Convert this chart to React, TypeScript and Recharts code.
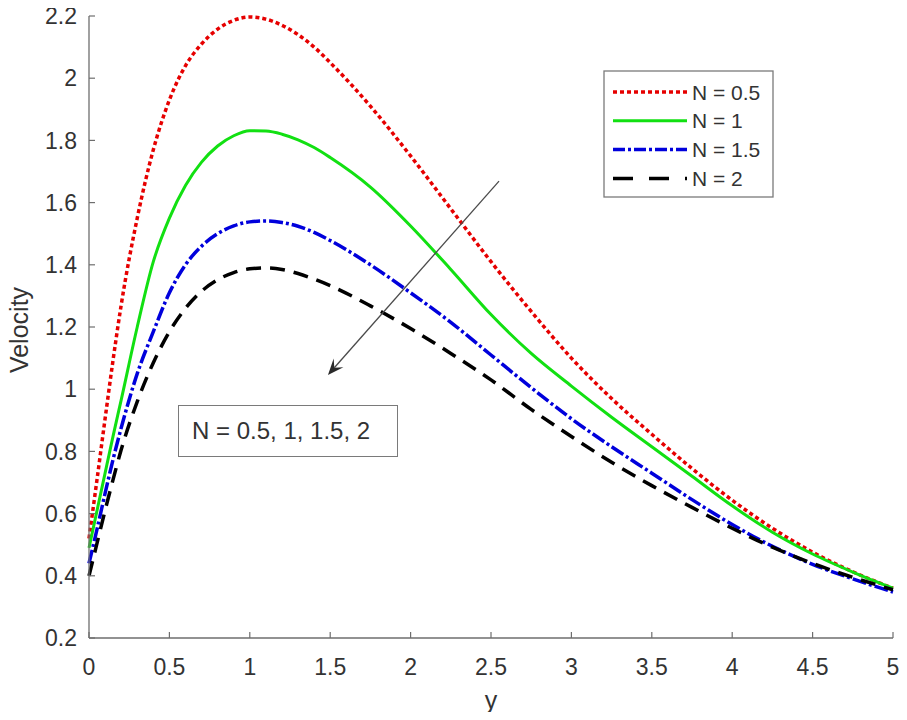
import React from 'react'
import {
  ComposedChart, Line, XAxis, YAxis, Legend, ReferenceLine,
} from 'recharts'

const yPos = [0, 0.05, 0.1, 0.15, 0.2, 0.3, 0.4, 0.5, 0.6, 0.7, 0.8, 0.9, 1.0, 1.1, 1.2, 1.3, 1.4, 1.5, 1.75, 2.0, 2.25, 2.5, 2.75, 3.0, 3.25, 3.5, 3.75, 4.0, 4.25, 4.5, 4.75, 5.0]
const velN05 = [0.52, 0.71, 0.905, 1.095, 1.27, 1.55, 1.77, 1.93, 2.04, 2.11, 2.158, 2.186, 2.197, 2.19, 2.17, 2.14, 2.10, 2.05, 1.91, 1.75, 1.58, 1.41, 1.25, 1.10, 0.97, 0.855, 0.745, 0.643, 0.553, 0.476, 0.413, 0.36]
const velN1 = [0.49, 0.61, 0.73, 0.85, 0.965, 1.20, 1.41, 1.55, 1.655, 1.73, 1.782, 1.815, 1.831, 1.83, 1.82, 1.802, 1.777, 1.745, 1.65, 1.525, 1.385, 1.24, 1.115, 1.01, 0.91, 0.815, 0.72, 0.625, 0.54, 0.47, 0.412, 0.36]
const velN15 = [0.44, 0.55, 0.665, 0.775, 0.875, 1.05, 1.185, 1.31, 1.40, 1.46, 1.50, 1.525, 1.538, 1.541, 1.536, 1.524, 1.504, 1.478, 1.40, 1.31, 1.215, 1.11, 1.005, 0.905, 0.815, 0.73, 0.645, 0.565, 0.495, 0.437, 0.39, 0.348]
const velN2 = [0.40, 0.505, 0.61, 0.71, 0.805, 0.96, 1.085, 1.185, 1.26, 1.315, 1.352, 1.375, 1.387, 1.39, 1.385, 1.372, 1.354, 1.333, 1.268, 1.195, 1.115, 1.03, 0.935, 0.848, 0.765, 0.69, 0.62, 0.553, 0.492, 0.44, 0.395, 0.355]

const xTicks = [0, 0.5, 1, 1.5, 2, 2.5, 3, 3.5, 4, 4.5, 5]
const yTicks = [0.2, 0.4, 0.6, 0.8, 1, 1.2, 1.4, 1.6, 1.8, 2, 2.2]

// arrow annotation, in data units
const arrowTail = { x: 2.55, y: 1.669 }
const arrowTip = { x: 1.486, y: 1.046 }

const data = yPos.map((y, i) => ({
  y, n05: velN05[i], n1: velN1[i], n15: velN15[i], n2: velN2[i],
}))

const series = [
  { key: 'n05', name: 'N = 0.5', color: '#e60000', dash: '4 3', legendDash: '4 3', width: 3.5 },
  { key: 'n1', name: 'N = 1', color: '#12e012', dash: undefined, legendDash: undefined, width: 3 },
  { key: 'n15', name: 'N = 1.5', color: '#0000dc', dash: '14 3 3 3', legendDash: '12 3 3 3', width: 3.5 },
  { key: 'n2', name: 'N = 2', color: '#000000', dash: '15 9', legendDash: '20 16', width: 3.5 },
]

const FONT = '"Liberation Sans", Arial, sans-serif'
const TEXT = '#333333'
const AXIS = '#6e6e6e'
const TICK_LEN = 6
const TICK_FONT = 23
const LABEL_FONT = 25

const BottomTick = (p: any) => (
  <g>
    <line x1={p.x} x2={p.x} y1={p.y - 21} y2={p.y - 21 - TICK_LEN} stroke={AXIS} strokeWidth={1.2} />
    <text x={p.x} y={p.y} dy="0.71em" textAnchor="middle" fontSize={TICK_FONT} fontFamily={FONT} fill={TEXT}>
      {p.payload.value}
    </text>
  </g>
)

const LeftTick = (p: any) => (
  <g>
    <line x1={p.x + 12} x2={p.x + 12 + TICK_LEN} y1={p.y} y2={p.y} stroke={AXIS} strokeWidth={1.2} />
    <text x={p.x} y={p.y} dy="0.36em" textAnchor="end" fontSize={TICK_FONT} fontFamily={FONT} fill={TEXT}>
      {p.payload.value}
    </text>
  </g>
)

const TopTick = (p: any) => (
  <line x1={p.x} x2={p.x} y1={p.y} y2={p.y + TICK_LEN} stroke={AXIS} strokeWidth={1.2} />
)

const RightTick = (p: any) => (
  <line x1={p.x} x2={p.x - TICK_LEN} y1={p.y} y2={p.y} stroke={AXIS} strokeWidth={1.2} />
)

const Arrow = (p: any) => {
  const { x1, y1, x2, y2 } = p
  const ang = Math.atan2(y2 - y1, x2 - x1)
  const len = 16
  const half = 6.5
  const bx = x2 - len * Math.cos(ang)
  const by = y2 - len * Math.sin(ang)
  const nx = -Math.sin(ang)
  const ny = Math.cos(ang)
  const notchX = x2 - len * 0.6 * Math.cos(ang)
  const notchY = y2 - len * 0.6 * Math.sin(ang)
  const pts = `${x2},${y2} ${bx + nx * half},${by + ny * half} ${notchX},${notchY} ${bx - nx * half},${by - ny * half}`
  return (
    <g>
      <line x1={x1} y1={y1} x2={notchX} y2={notchY} stroke="#4a4a4a" strokeWidth={1.3} />
      <polygon points={pts} fill="#2a2a2a" />
    </g>
  )
}

const VelocityLabel = (p: any) => {
  const vb = p.viewBox || {}
  const cx = 19
  const cy = vb.y + vb.height / 2 + 3
  return (
    <text x={cx} y={cy} dy="0.36em" textAnchor="middle" transform={`rotate(-90 ${cx} ${cy})`}
      fontSize={LABEL_FONT} fontFamily={FONT} fill={TEXT}>
      Velocity
    </text>
  )
}

const LegendBox = () => (
  <svg width={171} height={128} style={{ display: 'block' }}>
    <rect x={1} y={1} width={169} height={126} fill="#ffffff" stroke="#7a7a7a" strokeWidth={1.3} />
    {series.map((s, i) => {
      const cy = 22 + i * 28.8
      return (
        <g key={s.key}>
          <line x1={10} x2={84} y1={cy} y2={cy} stroke={s.color} strokeWidth={s.width}
            strokeDasharray={s.legendDash} />
          <text x={89} y={cy} dy="0.36em" fontSize={21} fontFamily={FONT} fill={TEXT}>{s.name}</text>
        </g>
      )
    })}
  </svg>
)

export default function App() {
  return (
    <div style={{ position: 'relative', width: 899, height: 712, margin: '-8px 0 0 -8px', background: '#fff' }}>
      <style>{'.recharts-surface { overflow: visible; }'}</style>
      <ComposedChart width={899} height={712} data={data}
        margin={{ top: 16, right: 6, bottom: 0, left: 0 }}>
        <XAxis dataKey="y" type="number" domain={[0, 5]} ticks={xTicks} interval={0}
          height={74} tickSize={0} tickMargin={21} tickLine={false}
          axisLine={{ stroke: AXIS, strokeWidth: 1.3 }} tick={BottomTick}
          label={{ value: 'y', position: 'insideBottom', offset: 3, fontSize: LABEL_FONT, fontFamily: FONT, fill: TEXT }} />
        <XAxis xAxisId="top" orientation="top" dataKey="y" type="number" domain={[0, 5]} ticks={xTicks}
          interval={0} height={0} tickSize={0} tickMargin={0} tickLine={false}
          axisLine={{ stroke: AXIS, strokeWidth: 1.3 }} tick={TopTick} />
        <YAxis type="number" domain={[0.2, 2.2]} ticks={yTicks} interval={0} width={89}
          tickSize={0} tickMargin={12} tickLine={false}
          axisLine={{ stroke: AXIS, strokeWidth: 1.3 }} tick={LeftTick}
          label={{ content: VelocityLabel }} />
        <YAxis yAxisId="right" orientation="right" type="number" domain={[0.2, 2.2]} ticks={yTicks}
          interval={0} width={0} tickSize={0} tickMargin={0} tickLine={false}
          axisLine={{ stroke: AXIS, strokeWidth: 1.3 }} tick={RightTick} />
        {series.map((s) => (
          <Line key={s.key} dataKey={s.key} name={s.name} type="monotone" stroke={s.color}
            strokeWidth={s.width} strokeDasharray={s.dash} dot={false} activeDot={false}
            isAnimationActive={false} />
        ))}
        <ReferenceLine segment={[arrowTail, arrowTip]} shape={Arrow} ifOverflow="visible" />
        <Legend content={LegendBox} layout="vertical" align="center" verticalAlign="middle"
          wrapperStyle={{ position: 'absolute', left: 603, top: 70, width: 171, height: 128 }} />
      </ComposedChart>
      <div style={{
        position: 'absolute', left: 178, top: 405, width: 220, height: 52,
        border: '1.3px solid #7a7a7a', background: '#fff', boxSizing: 'border-box',
        fontFamily: FONT, fontSize: 24, color: TEXT, lineHeight: '50px', paddingLeft: 13,
        whiteSpace: 'nowrap',
      }}>
        N = 0.5, 1, 1.5, 2
      </div>
    </div>
  )
}
